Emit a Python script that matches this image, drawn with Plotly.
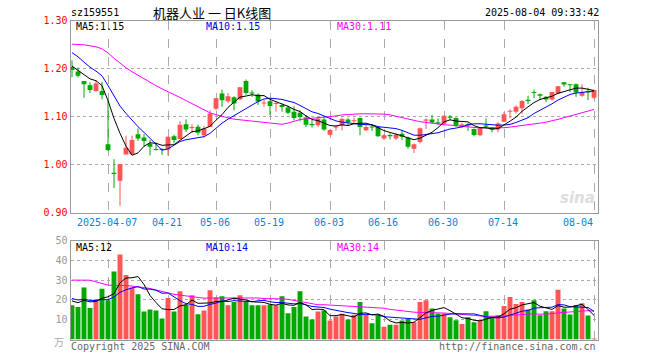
import plotly.graph_objects as go

# ---------------- data ----------------
dates = ["03-27","03-28","03-31","04-01","04-02","04-03","04-07","04-08","04-09","04-10",
         "04-11","04-14","04-15","04-16","04-17","04-18","04-21","04-22","04-23","04-24",
         "04-25","04-28","04-29","04-30","05-06","05-07","05-08","05-09","05-12","05-13",
         "05-14","05-15","05-16","05-19","05-20","05-21","05-22","05-23","05-26","05-27",
         "05-28","05-29","05-30","06-03","06-04","06-05","06-06","06-09","06-10","06-11",
         "06-12","06-13","06-16","06-17","06-18","06-19","06-20","06-23","06-24","06-25",
         "06-26","06-27","06-30","07-01","07-02","07-03","07-04","07-07","07-08","07-09",
         "07-10","07-11","07-14","07-15","07-16","07-17","07-18","07-21","07-22","07-23",
         "07-24","07-25","07-28","07-29","07-30","07-31","08-01","08-04"]

open_ = [1.203,1.194,1.174,1.165,1.153,1.153,1.042,0.983,0.966,1.021,
         1.021,1.063,1.056,1.043,1.031,1.031,1.031,1.059,1.053,1.084,
         1.076,1.0785,1.061,1.078,1.116,1.148,1.132,1.140,1.136,1.174,
         1.150,1.146,1.127,1.132,1.126,1.124,1.119,1.110,1.108,1.098,
         1.083,1.082,1.094,1.062,1.077,1.081,1.094,1.090,1.097,1.0715,
         1.078,1.078,1.054,1.061,1.054,1.064,1.056,1.033,1.047,1.091,
         1.094,1.088,1.085,1.100,1.097,1.078,1.084,1.074,1.061,1.081,
         1.077,1.073,1.089,1.110,1.110,1.117,1.135,1.150,1.1465,1.141,
         1.1355,1.148,1.1715,1.166,1.167,1.143,1.151,1.139]
high = [1.217,1.202,1.174,1.171,1.176,1.172,1.133,1.011,1.001,1.060,
        1.060,1.075,1.063,1.051,1.046,1.034,1.058,1.062,1.090,1.094,
        1.084,1.083,1.080,1.113,1.138,1.156,1.149,1.142,1.161,1.177,
        1.155,1.148,1.135,1.134,1.130,1.127,1.123,1.121,1.113,1.103,
        1.093,1.099,1.099,1.073,1.082,1.098,1.097,1.098,1.098,1.082,
        1.084,1.080,1.063,1.065,1.065,1.071,1.058,1.044,1.077,1.096,
        1.103,1.096,1.102,1.103,1.098,1.087,1.087,1.075,1.078,1.096,
        1.078,1.088,1.109,1.115,1.123,1.134,1.143,1.156,1.148,1.142,
        1.151,1.163,1.1715,1.167,1.169,1.167,1.160,1.156]
low = [1.182,1.181,1.139,1.149,1.151,1.136,1.028,0.951,0.914,1.021,
       1.021,1.049,1.037,1.019,1.029,1.020,1.019,1.044,1.053,1.068,
       1.066,1.061,1.056,1.078,1.113,1.120,1.128,1.113,1.134,1.145,
       1.141,1.124,1.120,1.103,1.110,1.110,1.105,1.092,1.090,1.078,
       1.077,1.078,1.070,1.060,1.071,1.071,1.081,1.085,1.061,1.070,
       1.070,1.058,1.051,1.052,1.051,1.051,1.033,1.024,1.044,1.074,
       1.085,1.082,1.082,1.092,1.078,1.076,1.070,1.059,1.059,1.075,
       1.067,1.067,1.089,1.096,1.106,1.106,1.126,1.138,1.135,1.130,
       1.133,1.147,1.162,1.151,1.141,1.141,1.134,1.137]
close = [1.197,1.185,1.167,1.155,1.169,1.145,1.030,0.980,1.001,1.035,
         1.051,1.054,1.049,1.037,1.030,1.030,1.058,1.051,1.083,1.073,
         1.077,1.066,1.075,1.106,1.138,1.134,1.142,1.127,1.161,1.149,
         1.148,1.131,1.129,1.122,1.127,1.120,1.108,1.097,1.099,1.083,
         1.082,1.096,1.073,1.072,1.078,1.095,1.088,1.091,1.078,1.078,
         1.077,1.059,1.061,1.059,1.062,1.058,1.037,1.042,1.0755,1.0935,
         1.0875,1.0855,1.1015,1.0975,1.0805,1.0835,1.0815,1.0615,1.0765,1.0785,
         1.0725,1.0855,1.1045,1.1105,1.1205,1.1325,1.1325,1.149,1.143,1.1355,
         1.151,1.163,1.1667,1.165,1.150,1.151,1.150,1.155]
# volume, in 万 (10k) units
volume = [17.3,16.4,26.2,15.9,20.3,25.6,19.8,34.4,42.9,32.6,
          26.3,22.9,14.2,15.2,14.7,10.6,21.0,14.2,24.4,17.6,
          22.4,12.8,14.7,24.9,21.2,21.9,17.3,19.0,22.4,19.3,
          17.3,17.3,17.3,17.6,17.3,21.9,13.2,16.4,24.4,11.6,
          10.1,14.2,14.7,9.6,11.6,13.0,10.1,12.5,19.0,12.5,
          8.2,12.1,6.5,7.5,7.5,9.6,10.4,8.7,18.9,19.8,
          15.7,13.1,13.1,11.2,9.7,7.8,11.2,8.7,9.7,14.3,
          11.7,12.2,16.9,21.5,17.9,18.9,15.2,19.8,12.2,14.3,
          14.3,25.1,15.6,12.6,17.3,18.3,12.1,0.5]

# earlier sessions (not drawn), estimated from where the moving-average lines start
prior_close = [1.19,1.20,1.22,1.23,1.27,1.29,1.31,1.32,1.31,1.30,
               1.28,1.27,1.25,1.24,1.23,1.22,1.25,1.26,1.27,1.28,
               1.27,1.28,1.26,1.25,1.245,1.23,1.21,1.20,1.188]
prior_volume = [18,25,17,45,50,45,40,38,38,35,
                30,30,28,40,38,36,36,35,35,34,
                24,22,22,21,20.5,21,20,20,19.2]

tick_idx = [6, 16, 24, 33, 43, 52, 62, 72, 87]
tick_labels = ["2025-04-07","04-21","05-06","05-19","06-03","06-16","06-30","07-14","08-04"]

header_code = "sz159551"
header_title = "机器人业 一 日K线图"
header_time = "2025-08-04 09:33:42"

# ---------------- derived ----------------
W, H = 660, 360
RED, GREEN = "#ff5555", "#00a800"
n = len(close)
idx = list(range(n))

def mavg(prior, vals, k):
    full = prior + vals
    off = len(prior)
    return [sum(full[off + i - k + 1: off + i + 1]) / k for i in range(len(vals))]

ma5, ma10, ma30 = (mavg(prior_close, close, k) for k in (5, 10, 30))
vma5, vma10, vma30 = (mavg(prior_volume, volume, k) for k in (5, 10, 30))

up = [c >= o for o, c in zip(open_, close)]
colors = [RED if u else GREEN for u in up]
body_base = [min(o, c) for o, c in zip(open_, close)]
body_h = [max(abs(c - o), 0.0022) for o, c in zip(open_, close)]

def wick_xy(flag):
    xs, ys = [], []
    for i in idx:
        if up[i] == flag:
            xs += [i, i, None]
            ys += [low[i], high[i], None]
    return xs, ys

fig = go.Figure()
for flag, col in ((True, RED), (False, GREEN)):
    wx, wy = wick_xy(flag)
    fig.add_trace(go.Scatter(x=wx, y=wy, mode="lines", line=dict(color=col, width=1),
                             xaxis="x", yaxis="y", hoverinfo="skip"))
fig.add_trace(go.Bar(x=idx, y=body_h, base=body_base, width=0.8,
                     marker=dict(color=colors, line=dict(width=0)), xaxis="x", yaxis="y"))
for vals, col in ((ma30, "#ff00ff"), (ma10, "#0000ff"), (ma5, "#000000")):
    fig.add_trace(go.Scatter(x=idx, y=vals, mode="lines", line=dict(color=col, width=1),
                             xaxis="x", yaxis="y", hoverinfo="skip"))

fig.add_trace(go.Bar(x=idx, y=volume, width=0.82,
                     marker=dict(color=colors, line=dict(width=0)), xaxis="x2", yaxis="y2"))
for vals, col in ((vma30, "#ff00ff"), (vma10, "#0000ff"), (vma5, "#000000")):
    fig.add_trace(go.Scatter(x=idx, y=vals, mode="lines", line=dict(color=col, width=1),
                             xaxis="x2", yaxis="y2", hoverinfo="skip"))

MONO = "DejaVu Sans Mono"
x_dom = [70.5 / W, 597.5 / W]
x_rng = [-0.25, 87.58]
frame = dict(showline=True, linecolor="#999999", linewidth=1, mirror=True, zeroline=False,
             ticks="", automargin=False)

def py(p):
    return 1 - p / H

axis_x = dict(domain=x_dom, range=x_rng, tickvals=tick_idx, showticklabels=False,
              showgrid=True, gridcolor="#aaaaaa", griddash="dash", gridwidth=1, **frame)

fig.update_layout(
    width=W, height=H, margin=dict(l=0, r=0, t=0, b=0, pad=0, autoexpand=False),
    paper_bgcolor="white", plot_bgcolor="white", showlegend=False,
    barmode="overlay", hovermode=False,
    xaxis=dict(anchor="y", **axis_x),
    xaxis2=dict(anchor="y2", **axis_x),
    yaxis=dict(domain=[py(212.5), py(20.5)], range=[0.90, 1.30],
               tickvals=[0.9, 1.0, 1.1, 1.2, 1.3], ticktext=["0.90", "1.00", "1.10", "1.20", "1.30"],
               tickfont=dict(family=MONO, size=10, color="#ff0000"),
               showgrid=True, gridcolor="#aaaaaa", griddash="dot", **frame),
    yaxis2=dict(domain=[py(339.5), py(240.5)], range=[0, 50],
                tickvals=[10, 20, 30, 40, 50], ticktext=["10", "20", "30", "40", "50"],
                tickfont=dict(family=MONO, size=10, color="#999999"),
                showgrid=True, gridcolor="#aaaaaa", griddash="dot", **frame),
)

ann = []
def txt(x, y, s, color, size=10, family=MONO, xanchor="left", xref="paper"):
    ann.append(dict(x=x if xref != "paper" else x / W, y=py(y), xref=xref, yref="paper",
                    text=s, showarrow=False, xanchor=xanchor, yanchor="middle",
                    font=dict(family=family, size=size, color=color)))

txt(69, 13, header_code, "#000000")
txt(151, 13, header_title, "#000000", size=13, family="Noto Sans CJK SC")
txt(601, 13, header_time, "#000000", xanchor="right")

txt(74, 27, "MA5:%.2f" % ma5[-1], "#000000")
txt(204, 27, "MA10:%.2f" % ma10[-1], "#0000ff")
txt(335, 27, "MA30:%.2f" % ma30[-1], "#ff00ff")

txt(74, 247, "MA5:%d" % round(vma5[-1]), "#000000")
txt(204, 247, "MA10:%d" % round(vma10[-1]), "#0000ff")
txt(335, 247, "MA30:%d" % round(vma30[-1]), "#ff00ff")

for i, lab in zip(tick_idx, tick_labels):
    if i == tick_idx[-1]:
        txt(i + 0.2, 222, lab, "#0b83d9", xanchor="right", xref="x")
    else:
        txt(i - 0.25, 222, lab, "#0b83d9", xanchor="center", xref="x")

txt(66, 341, "万", "#aaaaaa", size=10, family="Noto Sans CJK SC", xanchor="right")
txt(69, 346, "Copyright 2025 SINA.COM", "#666666")
txt(598, 346, "http://finance.sina.com.cn", "#666666", xanchor="right")
txt(597, 198, "<b><i>sina</i></b>", "#dddddd", size=15, family="DejaVu Sans", xanchor="right")

fig.update_layout(annotations=ann)
fig.write_html("out.html", config={"displayModeBar": False, "staticPlot": True},
               post_script="document.body.style.margin='0';")
